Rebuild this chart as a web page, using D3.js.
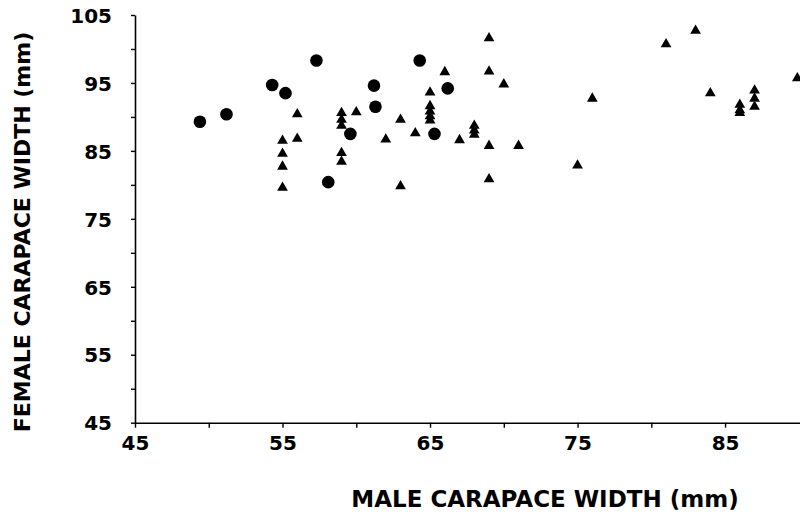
<!DOCTYPE html>
<html>
<head>
<meta charset="utf-8">
<script src="https://cdn.jsdelivr.net/npm/d3@7"></script>
<style>
  html, body { margin: 0; padding: 0; background: #fff; }
  svg { display: block; }
  text { font-family: "DejaVu Sans", sans-serif; font-weight: bold; fill: #000; }
</style>
</head>
<body>
<svg id="chart" width="800" height="513"></svg>
<script>
// ---- data ----
const circleMale   = [49.4, 51.2, 54.3, 55.2, 57.3, 58.1, 59.6, 61.2, 61.3, 64.3, 65.3, 66.2];
const circleFemale = [89.3, 90.4, 94.7, 93.5, 98.3, 80.4, 87.5, 94.6, 91.5, 98.3, 87.5, 94.2];

const triangleMale = [
  55, 55, 55, 55,
  56, 56,
  59, 59, 59, 59, 59,
  60, 62, 63, 63, 64,
  65, 65, 65, 65, 65,
  66, 67, 68, 68, 68,
  69, 69, 69, 69,
  70, 71, 75, 76, 81, 83, 84,
  86, 86, 86,
  87, 87, 87,
  89.9
];
const triangleFemale = [
  86.5, 84.6, 82.7, 79.6,
  90.4, 86.8,
  90.6, 89.6, 88.7, 84.7, 83.4,
  90.7, 86.7, 89.6, 79.8, 87.6,
  93.6, 91.6, 90.8, 90.1, 89.5,
  96.6, 86.6, 88.7, 88.0, 87.4,
  101.6, 96.7, 85.75, 80.85,
  94.8, 85.75, 82.85, 92.7, 100.7, 102.7, 93.5,
  91.8, 91.0, 90.6,
  93.9, 92.7, 91.5,
  95.7
];

const xTicks = [45, 50, 55, 60, 65, 70, 75, 80, 85];
const xLabels = [45, 55, 65, 75, 85];
const yTicks = [45, 50, 55, 60, 65, 70, 75, 80, 85, 90, 95, 100, 105];
const yLabels = [45, 55, 65, 75, 85, 95, 105];
const xTitle = "MALE CARAPACE WIDTH (mm)";
const yTitle = "FEMALE CARAPACE WIDTH (mm)";

// ---- layout ----
const svg = d3.select("#chart");
const x = d3.scaleLinear().domain([45, 90.08]).range([135, 800]);
const y = d3.scaleLinear().domain([45, 105]).range([422.7, 15]);

// x axis
const xAxis = d3.axisBottom(x)
  .tickValues(xTicks)
  .tickSizeInner(5)
  .tickSizeOuter(0)
  .tickFormat(d => xLabels.includes(d) ? d : "");
const gx = svg.append("g").attr("transform", `translate(0,${y(45)})`).call(xAxis);
gx.select(".domain").attr("stroke", "#000").attr("stroke-width", 1.6);
gx.selectAll(".tick line").attr("stroke", "#000").attr("stroke-width", 1.4);
gx.selectAll(".tick text")
  .attr("font-size", 20).attr("font-family", "DejaVu Sans").attr("font-weight", "bold")
  .attr("dy", 0).attr("y", 27).attr("fill", "#000");

// y axis
const yAxis = d3.axisLeft(y)
  .tickValues(yTicks)
  .tickSizeInner(4)
  .tickSizeOuter(0)
  .tickFormat(d => yLabels.includes(d) ? d : "");
const gy = svg.append("g").attr("transform", `translate(${x(45)},0)`).call(yAxis);
gy.select(".domain").attr("stroke", "#000").attr("stroke-width", 1.6);
gy.selectAll(".tick line").attr("stroke", "#000").attr("stroke-width", 1.4);
gy.selectAll(".tick text")
  .attr("font-size", 20).attr("font-family", "DejaVu Sans").attr("font-weight", "bold")
  .attr("x", -23).attr("dy", "0.36em").attr("fill", "#000");

// titles
svg.append("text")
  .attr("x", 545).attr("y", 507)
  .attr("text-anchor", "middle")
  .attr("font-size", 23)
  .text(xTitle);
svg.append("text")
  .attr("transform", `translate(30,232) rotate(-90)`)
  .attr("text-anchor", "middle")
  .attr("font-size", 22)
  .text(yTitle);

// points
const circles = circleMale.map((m, i) => ({ m, f: circleFemale[i] }));
const triangles = triangleMale.map((m, i) => ({ m, f: triangleFemale[i] }));

svg.append("g").selectAll("circle").data(circles).join("circle")
  .attr("cx", d => x(d.m)).attr("cy", d => y(d.f))
  .attr("r", 6.3).attr("fill", "#000");

const tri = d3.symbol().type(d3.symbolTriangle).size(50);
svg.append("g").selectAll("path").data(triangles).join("path")
  .attr("d", tri)
  .attr("transform", d => `translate(${x(d.m)},${y(d.f)})`)
  .attr("fill", "#000");
</script>
</body>
</html>
